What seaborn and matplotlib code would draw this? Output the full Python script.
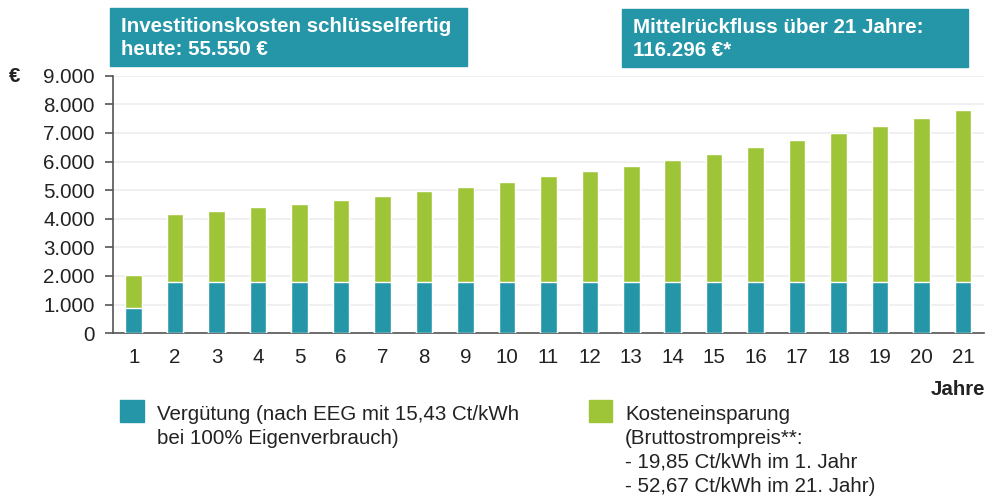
import pandas as pd
import matplotlib.pyplot as plt
import seaborn as sns
from matplotlib.patches import Rectangle

# data
years = [str(i) for i in range(1, 22)]
verguetung = [870] + [1775] * 20
total = [2020, 4165, 4280, 4415, 4525, 4665, 4810, 4975, 5125, 5295, 5490,
         5675, 5850, 6060, 6270, 6505, 6750, 6995, 7250, 7525, 7805]
y_ticks = [0, 1000, 2000, 3000, 4000, 5000, 6000, 7000, 8000, 9000]
y_tick_labels = ["0", "1.000", "2.000", "3.000", "4.000", "5.000",
                 "6.000", "7.000", "8.000", "9.000"]

TEAL = "#2596a8"
GREEN = "#9ec538"
TEXT = "#222222"
FS = 14.8


def main():
    sns.set_style("white")
    plt.rcParams["font.family"] = ["Liberation Sans", "DejaVu Sans"]

    df = pd.DataFrame({"Jahr": years, "Gesamt": total, "Verguetung": verguetung})

    fig = plt.figure(figsize=(9.85, 4.98), dpi=100)
    ax = fig.add_axes([0.1147, 0.331, 0.884, 0.517])

    sns.barplot(data=df, x="Jahr", y="Gesamt", color=GREEN, width=0.4,
                saturation=1, ax=ax, zorder=3)
    sns.barplot(data=df, x="Jahr", y="Verguetung", color=TEAL, width=0.4,
                saturation=1, ax=ax, zorder=4)

    ax.set_xlim(-0.5, 20.5)
    ax.set_ylim(0, 9000)
    ax.set_yticks(y_ticks)
    ax.set_yticklabels(y_tick_labels)
    ax.set_xlabel("")
    ax.set_ylabel("")
    ax.yaxis.grid(True, color="#eeeeee", linewidth=1.2, zorder=0)
    ax.set_axisbelow(True)

    ax.set_xticks([i - 0.5 for i in range(22)], minor=True)
    ax.tick_params(axis="x", which="major", length=0, pad=11,
                   labelsize=FS, labelcolor=TEXT)
    ax.tick_params(axis="x", which="minor", length=6, width=1.2,
                   color="#555555", direction="out")
    ax.tick_params(axis="y", length=6, width=1.2, color="#555555",
                   labelsize=FS, labelcolor=TEXT, pad=7, left=True)

    for side in ["top", "right"]:
        ax.spines[side].set_visible(False)
    for side in ["left", "bottom"]:
        ax.spines[side].set_color("#555555")
        ax.spines[side].set_linewidth(1.2)

    # axis labels
    fig.text(15 / 985, 1 - 77 / 498, "€", fontsize=FS, fontweight="bold",
             color=TEXT, va="center", ha="center")
    fig.text(985 / 985, 1 - 389 / 498, "Jahre", fontsize=FS, fontweight="bold",
             color=TEXT, va="center", ha="right")

    # header boxes
    boxes = [
        (110, 8, 357, 58, "Investitionskosten schlüsselfertig\nheute: 55.550 €"),
        (622, 9, 346, 58, "Mittelrückfluss über 21 Jahre:\n116.296 €*"),
    ]
    for x0, y0, w, h, label in boxes:
        fig.patches.append(Rectangle((x0 / 985, 1 - (y0 + h) / 498), w / 985, h / 498,
                                     transform=fig.transFigure, color=TEAL,
                                     zorder=0))
        fig.text((x0 + 11) / 985, 1 - (y0 + h / 2 + 1) / 498, label, color="white",
                 fontsize=FS, fontweight="bold", va="center", ha="left",
                 linespacing=1.27)

    # legend
    fig.patches.append(Rectangle((120 / 985, 1 - 422 / 498), 24 / 985, 22 / 498,
                                 transform=fig.transFigure, color=TEAL))
    fig.text(157 / 985, 1 - 405 / 498,
             "Vergütung (nach EEG mit 15,43 Ct/kWh\nbei 100% Eigenverbrauch)",
             fontsize=FS, color=TEXT, va="top", ha="left", linespacing=1.33)
    fig.patches.append(Rectangle((589 / 985, 1 - 422 / 498), 23 / 985, 22 / 498,
                                 transform=fig.transFigure, color=GREEN))
    fig.text(625 / 985, 1 - 405 / 498,
             "Kosteneinsparung\n(Bruttostrompreis**:\n- 19,85 Ct/kWh im 1. Jahr\n"
             "- 52,67 Ct/kWh im 21. Jahr)",
             fontsize=FS, color=TEXT, va="top", ha="left", linespacing=1.33)

    fig.savefig("out.png", dpi=100)
    plt.close(fig)


if __name__ == "__main__":
    main()
